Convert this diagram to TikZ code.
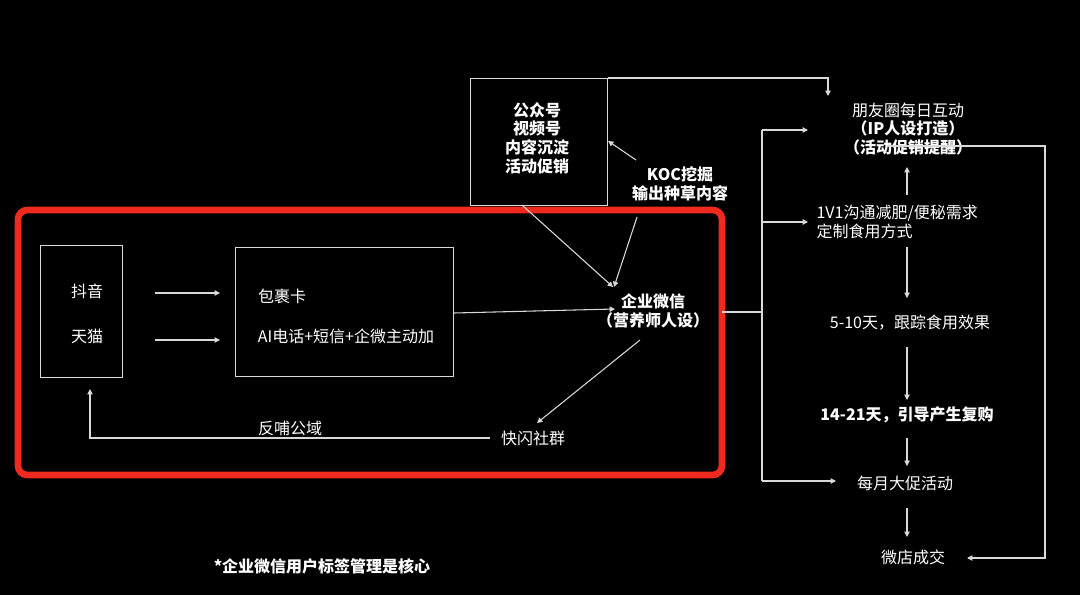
\documentclass[tikz,border=0pt]{standalone}
\usepackage{fontspec}
\setmainfont{Noto Sans CJK SC}
\usetikzlibrary{arrows.meta}
\definecolor{redbox}{HTML}{F02A1E}
\begin{document}
\begin{tikzpicture}[x=0.75pt,y=-0.75pt,
  ln/.style={draw=white!85!black,line width=0.8pt},
  ar/.style={ln,-{Triangle[length=4pt,width=4pt]}},
  tx/.style={text=white,font=\fontsize{12}{14}\selectfont,inner sep=1pt},
  bx/.style={text=white,font=\fontsize{12}{14}\selectfont\bfseries,inner sep=1pt},
  box/.style={draw=white!85!black,line width=0.8pt}]
\fill[black] (0,0) rectangle (1080,595);
\useasboundingbox (0,0) rectangle (1080,595);
\draw[redbox,line width=5pt,rounded corners=7pt] (18,210) rectangle (722,475);
% boxes
\node[box,minimum width=82*0.75pt,minimum height=132*0.75pt,anchor=north west] (dy) at (40,245) {};
\node[tx] (t1) at (87,291) {抖音};
\node[tx] (t2) at (87,336) {天猫};
\node[box,minimum width=218*0.75pt,minimum height=129*0.75pt,anchor=north west] (bg) at (235,247) {};
\node[tx] (b1) at (282,296) {包裹卡};
\node[tx] (b2) at (346,336) {AI电话+短信+企微主动加};
\coordinate (a1s) at (155,293); \coordinate (a1e) at (220,293);
\coordinate (a2s) at (155,340); \coordinate (a2e) at (220,340);
\draw[ar] (a1s) -- (a1e);
\draw[ar] (a2s) -- (a2e);
\node[box,minimum width=137*0.75pt,minimum height=127*0.75pt,anchor=north west] (gz) at (470,78) {};
\node[bx,align=center] (gzt) at (537,138) {公众号\\视频号\\内容沉淀\\活动促销};
\node[bx,align=center] (qw) at (653,311) {企业微信\\（营养师人设）};
\node[bx,align=center] (koc) at (680,184) {KOC挖掘\\输出种草内容};
\node[tx] (ks) at (533,438) {快闪社群};
\node[tx] (fb) at (290,428) {反哺公域};
\node[bx] (core) at (322,566) {*企业微信用户标签管理是核心};
% right column
\node[tx,align=center] (py) at (908,129) {朋友圈每日互动\\{\bfseries（IP人设打造）}\\{\bfseries（活动促销提醒）}};
\node[tx,align=left,anchor=west] (v1) at (815,222) {1V1沟通减肥/便秘需求\\定制食用方式};
\node[tx] (d5) at (910,323) {5-10天，跟踪食用效果};
\node[bx] (d14) at (907,415) {14-21天，引导产生复购};
\node[tx] (my) at (905,483) {每月大促活动};
\node[tx] (wd) at (913,557) {微店成交};
% connectors
\draw[ar] (bg.east |- 0,313) -- (615,309);
\draw[ar] (gz.north east) -- (828,78) -- (828,96);
\draw[ar] (636,160) -- (gz.east |- 0,141);
\draw[ar] (522,205) -- (613,287);
\draw[ar] (637,217) -- (614,287);
\draw[ar] (640,340) -- (537,423);
\draw[ar] (490,438) -- (90,438) -- (90,389);
\draw[ln] (722,312) -- (762,312);
\draw[ln] (762,130) -- (762,481);
\draw[ar] (762,130) -- (808,130);
\draw[ar] (762,222) -- (808,222);
\draw[ar] (762,481) -- (836,481);
\draw[ar] (887,146) -- (1045,146) -- (1045,558) -- (967,558);
\draw[ar] (907,195) -- (907,167);
\draw[ar] (907,247) -- (907,298);
\draw[ar] (907,347) -- (907,400);
\draw[ar] (907,438) -- (907,466);
\draw[ar] (907,508) -- (907,537);
\end{tikzpicture}
\end{document}
